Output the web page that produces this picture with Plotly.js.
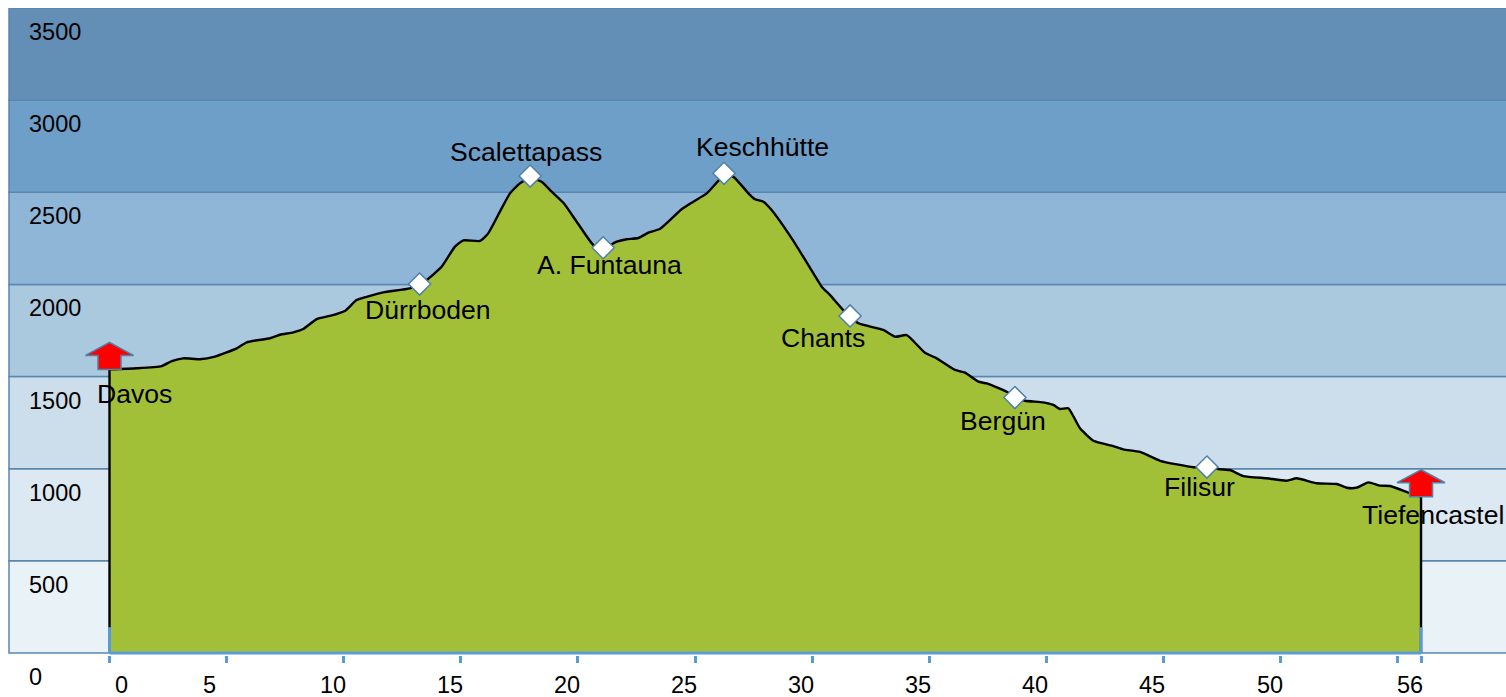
<!DOCTYPE html>
<html>
<head>
<meta charset="utf-8">
<script src="https://cdn.plot.ly/plotly-3.0.1.min.js"></script>
<style>html,body{margin:0;padding:0;background:#fff;overflow:hidden}#chart{width:1506px;height:697px}</style>
</head>
<body>
<div id="chart"></div>
<script>
const km = [0,1.16,2.23,2.66,3.15,3.86,4.50,5.43,5.86,6.85,7.28,7.85,8.27,8.85,9.41,10.05,10.55,10.98,11.69,12.83,13.24,13.54,14.18,14.75,15.11,15.82,16.17,16.67,17.10,17.53,17.96,18.45,18.88,19.38,19.95,20.66,21.08,21.66,22.08,22.58,23.01,23.51,24.43,24.93,25.50,26.24,26.64,27.28,27.56,27.92,28.27,29.13,29.84,30.41,30.76,31.33,31.62,31.97,33.04,33.54,34.04,34.82,35.32,36.10,36.53,37.10,37.46,38.31,38.66,39.09,39.87,40.30,40.58,40.94,41.44,42.01,42.86,43.29,44.00,44.86,46.28,46.86,47.42,47.84,48.41,49.41,50.26,50.69,51.55,52.40,52.83,53.25,53.75,54.25,54.68,55.53,56];
const elevation = [1539,1545,1557,1584,1599,1594,1608,1653,1686,1708,1727,1740,1758,1812,1829,1856,1915,1933,1957,1979,2002,2024,2096,2205,2239,2236,2277,2395,2494,2549,2575,2557,2503,2443,2340,2214,2195,2232,2245,2252,2281,2302,2408,2449,2494,2590,2584,2494,2462,2449,2404,2250,2105,1988,1943,1861,1829,1789,1753,1716,1725,1629,1599,1536,1521,1472,1463,1418,1386,1369,1360,1346,1324,1328,1219,1152,1123,1105,1091,1043,1008,1007,997,993,960,948,935,948,921,917,897,897,926,908,906,867,848];

const stopNames = ["Dürrboden","Scalettapass","A. Funtauna","Keschhütte","Chants","Bergün","Filisur"];
const stopKm = [13.24,17.96,21.08,26.24,31.62,38.66,46.86];
const stopElevation = [2002,2588,2199,2603,1829,1386,1009];

const endNames = ["Davos","Tiefencastel"];
const endKm = [0,56];
const endElevation = [1539,848];

const bandEdges = [0,500,1000,1500,2000,2500,3000,3500];
const bandColors = ["#e9f2f6","#dce8f2","#ccdeeb","#aac8de","#8fb6d7","#6e9fc9","#638eb6"];
const xTickVals = [0,5,10,15,20,25,30,35,40,45,50,55,56];
const xLabelVals = [0,5,10,15,20,25,30,35,40,45,50,56];
const yLabels = [0,500,1000,1500,2000,2500,3000,3500];

// pixel offsets of the hand-placed labels in the original
const stopShift = [[8,-26],[-4,24],[6,-17],[38,26],[-27,-22],[-12,-23],[-7,-20]];
const endShift = [[24.5,-25],[12,-18]];
const xLabelShift = [11.5,-17.5,-10.7,-10.8,-11,-11,-11,-11,-11,-11,-10.5,-11];

const font = "Liberation Sans, Arial, sans-serif";
const plotW = 1497, plotH = 647;

const shapes = bandColors.map((c,i)=>({
  type:"rect", layer:"below", xref:"paper", yref:"y",
  x0:0, x1:1.002, y0:bandEdges[i], y1:bandEdges[i+1],
  fillcolor:c, line:{color:"#5a87ae",width:1.5}
}));
const arrowPath = "M 0 27 L 24 14 L 11.5 14 L 11.5 0 L -11.5 0 L -11.5 14 L -24 14 Z";
endKm.forEach((k,i)=>shapes.push({
  type:"path", layer:"above", xref:"x", yref:"y",
  xsizemode:"pixel", ysizemode:"pixel", xanchor:k, yanchor:endElevation[i],
  path:arrowPath, fillcolor:"#ff0000", line:{color:"#4f81a9",width:1.5}
}));

const annotations = [];
const addLabel = (text,x,y,dx,dy)=>annotations.push({
  text, x, y, xref:"x", yref:"y", showarrow:false, xanchor:"center", yanchor:"middle",
  xshift:dx, yshift:dy, font:{family:font,size:26.6,color:"#000"}
});
stopNames.forEach((n,i)=>addLabel(n,stopKm[i],stopElevation[i],stopShift[i][0],stopShift[i][1]));
endNames.forEach((n,i)=>addLabel(n,endKm[i],endElevation[i],endShift[i][0],endShift[i][1]));
xLabelVals.forEach((v,i)=>annotations.push({
  text:String(v), x:v, xref:"x", y:-30/plotH, yref:"paper", showarrow:false,
  xanchor:"center", yanchor:"middle", xshift:xLabelShift[i],
  font:{family:font,size:23.5,color:"#000"}
}));
yLabels.forEach(v=>annotations.push({
  text:String(v), x:19/plotW, xref:"paper", y:v, yref:"y", showarrow:false,
  xanchor:"left", yanchor:"middle", yshift:-24, xshift:-1,
  font:{family:font,size:23.5,color:"#000"}
}));

const traces = [
  {x:km,y:elevation,mode:"lines",fill:"tozeroy",fillcolor:"#a2c037",
   line:{color:"#000",width:2.4,shape:"spline",smoothing:0.5},hoverinfo:"skip"},
  {x:[endKm[0],endKm[0],null,endKm[1],endKm[1]],y:[0,endElevation[0],null,0,endElevation[1]],mode:"lines",
   line:{color:"#000",width:2.4},hoverinfo:"skip"},
  {x:[0,0,null,0,56,null,56,56],y:[140,0,null,0,0,null,0,140],mode:"lines",
   line:{color:"#5b9bd5",width:3},hoverinfo:"skip"},
  {x:stopKm,y:stopElevation,mode:"markers",
   marker:{symbol:"diamond",size:17,color:"#fff",line:{color:"#4f81a9",width:1.5}},hoverinfo:"skip"}
];

Plotly.newPlot("chart",traces,{
  width:1506,height:697,showlegend:false,
  margin:{l:9,r:0,t:8,b:42,pad:0},
  paper_bgcolor:"#fff",plot_bgcolor:"#fff",
  xaxis:{range:[-100.5/23.42,(1506-109.5)/23.42],tickmode:"array",tickvals:xTickVals,ticktext:xTickVals.map(()=>""),
    ticks:"outside",ticklen:7,tickwidth:3,tickcolor:"#5b9bd5",showgrid:false,zeroline:false,showline:false},
  yaxis:{range:[-10.85,3500],showticklabels:false,ticks:"",showgrid:false,zeroline:false,showline:false},
  shapes,annotations
},{displayModeBar:false,staticPlot:true});
</script>
</body>
</html>
